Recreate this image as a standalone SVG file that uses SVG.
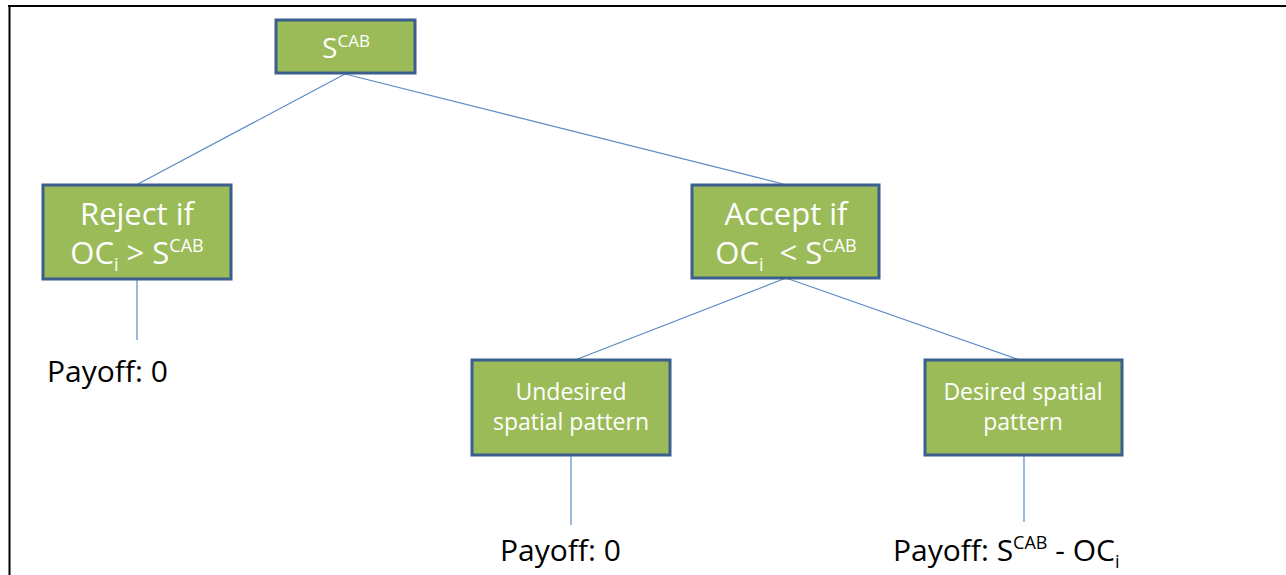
<svg xmlns="http://www.w3.org/2000/svg" width="1286" height="575" viewBox="0 0 1286 575">
<style>
.box{fill:#9BBB59;stroke:#3A5F8E;stroke-width:3}
.wt{fill:#ffffff;font-family:"Open Sans",Lato,sans-serif;text-anchor:middle}
.bt{fill:#000000;font-family:"Open Sans",Lato,sans-serif}
.conn line{stroke:#5B8AC6;stroke-width:1.2}
</style>
<rect width="1286" height="575" fill="#ffffff"/>
<g id="frame">
<line x1="8" y1="6" x2="1286" y2="6" stroke="#000" stroke-width="2"/>
<line x1="9.5" y1="5" x2="9.5" y2="575" stroke="#000" stroke-width="2"/>
</g>
<g class="conn" id="connectors">
<line x1="345" y1="74" x2="138" y2="184"/>
<line x1="345" y1="74" x2="783" y2="184"/>
<line x1="137" y1="279" x2="137" y2="340"/>
<line x1="786" y1="278" x2="575" y2="360"/>
<line x1="786" y1="278" x2="1020" y2="360"/>
<line x1="571" y1="455" x2="571" y2="525"/>
<line x1="1024" y1="455" x2="1024" y2="522"/>
</g>
<g id="node-scab">
<rect class="box" x="276" y="20" width="139" height="53"/>
<text class="wt" x="346" y="58" font-size="28">S<tspan font-size="17" dy="-11">CAB</tspan></text>
</g>
<g id="node-reject">
<rect class="box" x="43" y="185" width="188" height="94"/>
<text class="wt" x="137" y="225" font-size="31">Reject if</text>
<text class="wt" x="137" y="264" font-size="31">OC<tspan font-size="18" dy="7">i</tspan><tspan dy="-7"> &gt; S</tspan><tspan font-size="18" dy="-12">CAB</tspan></text>
</g>
<g id="node-accept">
<rect class="box" x="692" y="185" width="187" height="93"/>
<text class="wt" x="786" y="225" font-size="31">Accept if</text>
<text class="wt" x="786" y="264" font-size="31">OC<tspan font-size="18" dy="7">i</tspan><tspan dy="-7" xml:space="preserve">  &lt; S</tspan><tspan font-size="18" dy="-12">CAB</tspan></text>
</g>
<g id="node-undesired">
<rect class="box" x="472" y="360" width="198" height="95"/>
<text class="wt" x="571" y="400" font-size="23">Undesired</text>
<text class="wt" x="571" y="430" font-size="23">spatial pattern</text>
</g>
<g id="node-desired">
<rect class="box" x="925" y="360" width="197" height="95"/>
<text class="wt" x="1023" y="400" font-size="23">Desired spatial</text>
<text class="wt" x="1023" y="430" font-size="23">pattern</text>
</g>
<g id="payoffs">
<text class="bt" x="47" y="382" font-size="30">Payoff: 0</text>
<text class="bt" x="500" y="561" font-size="30">Payoff: 0</text>
<text class="bt" x="893" y="561" font-size="30">Payoff: S<tspan font-size="18" dy="-12">CAB</tspan><tspan dy="12"> - OC</tspan><tspan font-size="18" dy="7">i</tspan></text>
</g>
</svg>
